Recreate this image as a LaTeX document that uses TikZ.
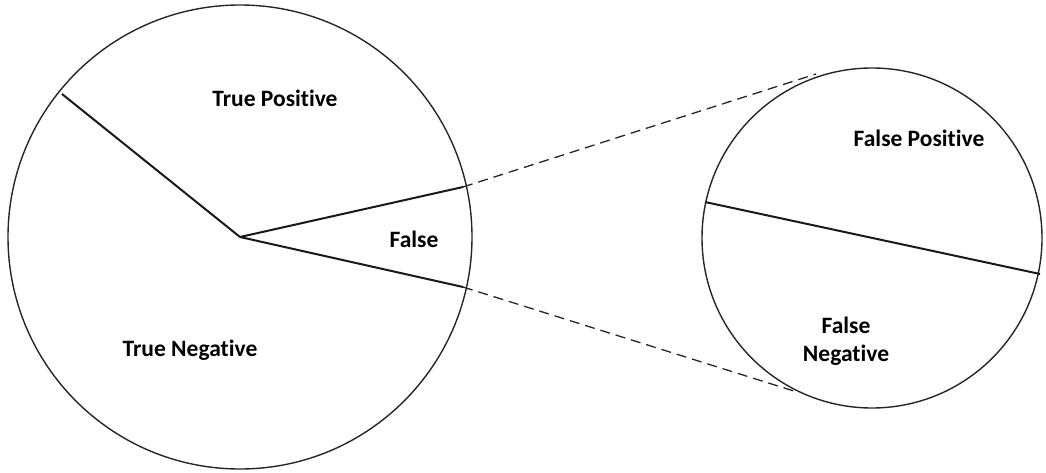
\documentclass[tikz,border=0pt]{standalone}
\usepackage{fontspec}
\setmainfont[Ligatures=NoCommon]{Carlito}
\begin{document}
\begin{tikzpicture}[x=1pt,y=-1pt,
  ring/.style={draw=black!85,line width=1.4pt},
  split/.style={draw=black!90,line width=2pt},
  zoomline/.style={draw=black!85,line width=1.3pt,dash pattern=on 10pt off 6pt},
  lbl/.style={font=\bfseries\fontsize{23.5}{28}\selectfont,align=center,inner sep=0pt}]
\useasboundingbox (0,0) rectangle (1046,473);
% whole population
\node[circle,ring,minimum size=464pt,inner sep=0pt] (big) at (240,237) {};
\coordinate (c) at (240,237);
\coordinate (a) at (62,94);
\coordinate (fu) at (463,187);
\coordinate (fl) at (463,287);
\draw[split] (c) -- (a);
\draw[split] (c) -- (fu);
\draw[split] (c) -- (fl);
% magnified false slice
\node[circle,ring,minimum size=340pt,inner sep=0pt] (small) at (872,238) {};
\coordinate (sl) at (705,202);
\coordinate (sr) at (1040,274);
\draw[split] (sl) -- (sr);
\coordinate (zu) at (816,74);
\coordinate (zl) at (797,392);
\draw[zoomline] (fu) -- (zu);
\draw[zoomline] (fl) -- (zl);
% labels
\node[lbl] (tp) at (275,98) {True Positive};
\node[lbl] (f) at (414,239) {False};
\node[lbl] (tn) at (190,350) {True Negative};
\node[lbl] (fp) at (919,138) {False Positive};
\node[lbl] (fn) at (846,341) {False\\Negative};
\end{tikzpicture}
\end{document}
